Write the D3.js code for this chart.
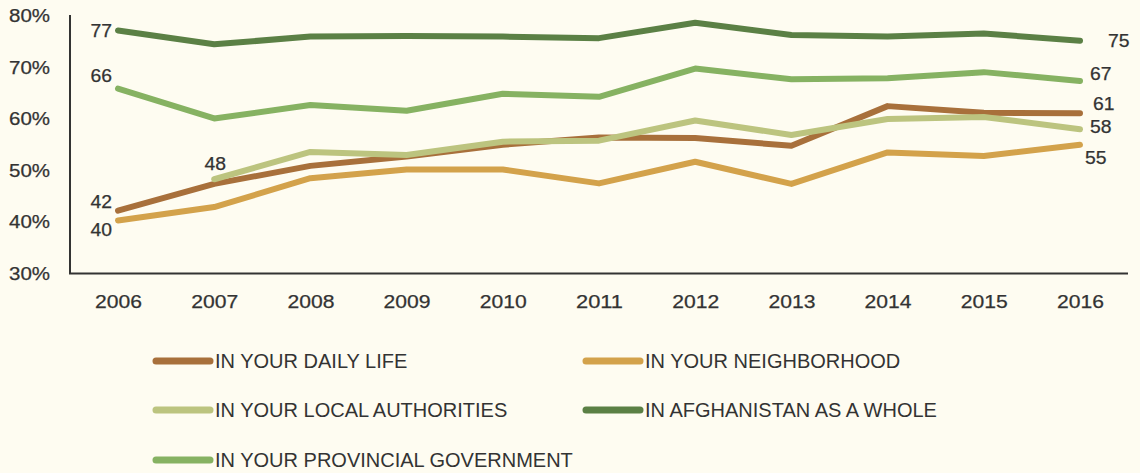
<!DOCTYPE html>
<html>
<head>
<meta charset="utf-8">
<script src="https://cdn.jsdelivr.net/npm/d3@7"></script>
<style>
  html, body { margin: 0; padding: 0; background: #FEFCF1; }
  svg { display: block; }
</style>
</head>
<body>
<svg id="chart" width="1140" height="473"></svg>
<script>
const years = [2006, 2007, 2008, 2009, 2010, 2011, 2012, 2013, 2014, 2015, 2016];
const yTicks = [30, 40, 50, 60, 70, 80];

const dailyLife       = [42.2, 47.4, 50.9, 52.7, 55.0, 56.4, 56.3, 54.8, 62.5, 61.2, 61.1];
const neighborhood    = [40.3, 42.9, 48.5, 50.2, 50.2, 47.5, 51.7, 47.4, 53.5, 52.8, 55.0];
const localAuth       = [null, 48.3, 53.6, 53.0, 55.6, 55.8, 59.7, 56.9, 60.0, 60.4, 58.0];
const afghanistan     = [77.2, 74.5, 76.0, 76.1, 76.0, 75.7, 78.7, 76.3, 76.0, 76.6, 75.2];
const provincial      = [65.9, 60.1, 62.7, 61.6, 64.9, 64.3, 69.8, 67.7, 67.9, 69.1, 67.4];

const seriesNames = ["IN YOUR DAILY LIFE", "IN YOUR NEIGHBORHOOD", "IN YOUR LOCAL AUTHORITIES",
                     "IN AFGHANISTAN AS A WHOLE", "IN YOUR PROVINCIAL GOVERNMENT"];
const seriesValues = [dailyLife, neighborhood, localAuth, afghanistan, provincial];
// labelled values: [series index, year, text]
const pointLabels = [
  [3, 2006, "77"], [4, 2006, "66"], [0, 2006, "42"], [1, 2006, "40"],
  [2, 2007, "48"],
  [3, 2016, "75"], [4, 2016, "67"], [0, 2016, "61"], [2, 2016, "58"], [1, 2016, "55"]
];

const colors = ["#A8703B", "#D3A24B", "#BCC47F", "#5B8045", "#86B262"];
// label layout offsets (dx, dy, anchor) keyed by "series-year"
const labelLayout = {
  "3-2006": [-6, 0, "end"], "4-2006": [-6, -13, "end"], "0-2006": [-6, -9, "end"], "1-2006": [-6, 9, "end"],
  "2-2007": [1, -16, "middle"],
  "3-2016": [28, 0, "start"], "4-2016": [10, -7, "start"], "0-2016": [13, -10, "start"],
  "2-2016": [10, -3, "start"], "1-2016": [5, 13, "start"]
};

const svg = d3.select("#chart");
const x = d3.scaleLinear().domain([2006, 2016]).range([118, 1080]);
const y = d3.scaleLinear().domain([30, 80]).range([273.5, 16]);
const axisColor = "#333";
const numFont = "Liberation Sans, Arial, sans-serif";

// Y axis
const yAxis = d3.axisLeft(y).tickValues(yTicks).tickSize(0).tickPadding(20)
  .tickFormat(d => d + "%");
const gy = svg.append("g").attr("transform", "translate(70,0)").call(yAxis);
gy.select(".domain").remove();
gy.selectAll("text").attr("font-family", numFont).attr("font-size", 18)
  .attr("fill", axisColor).attr("stroke", axisColor).attr("stroke-width", 0.25)
  .attr("textLength", 41).attr("lengthAdjust", "spacingAndGlyphs");

// X axis
const xAxis = d3.axisBottom(x).tickValues(years).tickSize(0).tickPadding(21)
  .tickFormat(d3.format("d"));
const gx = svg.append("g").attr("transform", "translate(0,273.5)").call(xAxis);
gx.select(".domain").remove();
gx.selectAll("text").attr("font-family", numFont).attr("font-size", 19)
  .attr("fill", axisColor).attr("stroke", axisColor).attr("stroke-width", 0.25)
  .attr("textLength", 47).attr("lengthAdjust", "spacingAndGlyphs");

// axis lines
svg.append("path")
  .attr("d", `M70,${y(80) - 1}V${y(30)}H1128`)
  .attr("fill", "none").attr("stroke", axisColor).attr("stroke-width", 2);

// Lines
const line = d3.line()
  .defined(d => d.v !== null)
  .x(d => x(d.year)).y(d => y(d.v));

seriesValues.forEach((vals, i) => {
  const data = years.map((yr, j) => ({ year: yr, v: vals[j] }));
  svg.append("path")
    .datum(data)
    .attr("d", line)
    .attr("fill", "none")
    .attr("stroke", colors[i])
    .attr("stroke-width", 6)
    .attr("stroke-linecap", "round")
    .attr("stroke-linejoin", "round");
});

// Point labels
pointLabels.forEach(([si, yr, txt]) => {
  const v = seriesValues[si][years.indexOf(yr)];
  const [dx, dy, anchor] = labelLayout[si + "-" + yr];
  svg.append("text")
    .attr("x", x(yr) + dx)
    .attr("y", y(v) + dy)
    .attr("dy", "0.36em")
    .attr("text-anchor", anchor)
    .attr("font-family", numFont)
    .attr("font-size", 17.5)
    .attr("fill", axisColor).attr("stroke", axisColor).attr("stroke-width", 0.25)
    .attr("textLength", 21.5).attr("lengthAdjust", "spacingAndGlyphs")
    .text(txt);
});

// Legend
const legendCols = [153, 583];
const legendRows = [361, 410, 460];
seriesNames.forEach((name, i) => {
  const lx = legendCols[i % 2];
  const ly = legendRows[Math.floor(i / 2)];
  svg.append("line")
    .attr("x1", lx + 3).attr("x2", lx + 57)
    .attr("y1", ly).attr("y2", ly)
    .attr("stroke", colors[i]).attr("stroke-width", 7)
    .attr("stroke-linecap", "round");
  svg.append("text")
    .attr("x", lx + 62).attr("y", ly)
    .attr("dy", "0.36em")
    .attr("font-family", "Liberation Sans, Arial, sans-serif")
    .attr("font-size", 20)
    .attr("fill", axisColor)
    .text(name);
});
</script>
</body>
</html>
